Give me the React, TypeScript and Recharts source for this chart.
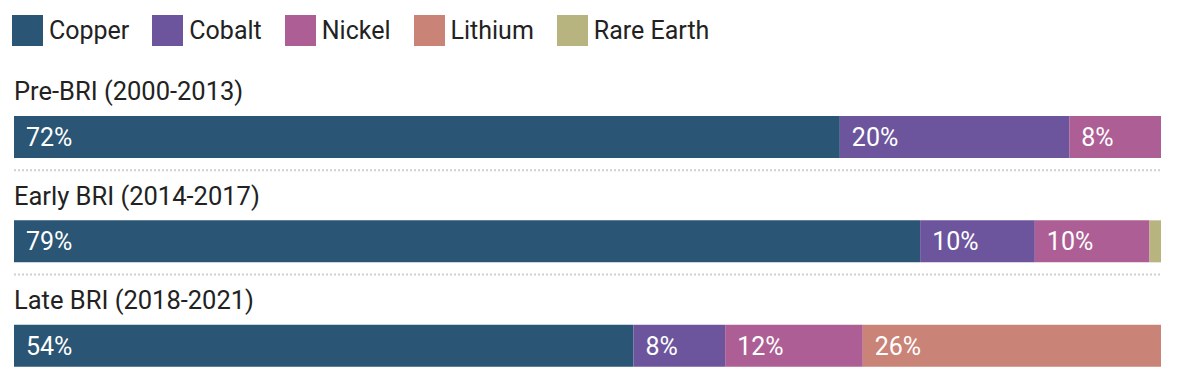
import React from "react";
import { BarChart, Bar, XAxis, YAxis, Legend, LabelList } from "recharts";

const periods = ["Pre-BRI (2000-2013)", "Early BRI (2014-2017)", "Late BRI (2018-2021)"];
const minerals = ["Copper", "Cobalt", "Nickel", "Lithium", "Rare Earth"];
const copper = [72, 79, 54];
const cobalt = [20, 10, 8];
const nickel = [8, 10, 12];
const lithium = [0, 0, 26];
const rareEarth = [0, 1, 0];

const COLORS = ["#2a5574", "#6c559d", "#ad5f95", "#c98377", "#b8b47f"];
const FONT = "Roboto, 'Noto Sans', sans-serif";

const data = periods.map((period, i) => ({
  period,
  Copper: copper[i],
  Cobalt: cobalt[i],
  Nickel: nickel[i],
  Lithium: lithium[i],
  "Rare Earth": rareEarth[i],
}));

const PLOT_LEFT = 14;
const PLOT_RIGHT = 1161;

// category label above each bar, plus dotted separator under it
const PeriodTick = (props: any) => {
  const { y, payload, index } = props;
  return (
    <g>
      <text x={PLOT_LEFT} y={y - 37} fill="#222" fontSize={25.5} fontFamily={FONT} textAnchor="start">
        {payload.value}
      </text>
      {index < periods.length - 1 && (
        <line
          x1={PLOT_LEFT}
          x2={PLOT_RIGHT}
          y1={y + 33}
          y2={y + 33}
          stroke="#cfcfcf"
          strokeWidth={2}
          strokeDasharray="2 2"
        />
      )}
    </g>
  );
};

const renderLegend = () => (
  <div style={{ display: "flex", alignItems: "center", paddingLeft: 12, height: 60 }}>
    {minerals.map((m, i) => (
      <div key={m} style={{ display: "flex", alignItems: "center", marginRight: 23 }}>
        <div style={{ width: 31, height: 31, backgroundColor: COLORS[i], marginRight: 6 }} />
        <span style={{ fontSize: 25, fontFamily: FONT, color: "#222" }}>{m}</span>
      </div>
    ))}
  </div>
);

const fmt = (v: any) => (v >= 5 ? `${v}%` : "");

export default function App() {
  return (
    <div style={{ position: "absolute", left: 0, top: 0, width: 1177, height: 373, overflow: "hidden", background: "#fff" }}>
      <BarChart
        width={1177}
        height={400}
        data={data}
        layout="vertical"
        margin={{ top: 25, right: 1177 - PLOT_RIGHT, bottom: 2, left: PLOT_LEFT - 1 }}
        barSize={42}
      >
        <XAxis type="number" domain={[0, 100]} hide />
        <YAxis
          type="category"
          dataKey="period"
          width={1}
          axisLine={false}
          tickLine={false}
          tick={(p: any) => <PeriodTick {...p} />}
          interval={0}
        />
        <Legend
          verticalAlign="top"
          align="left"
          content={renderLegend}
          wrapperStyle={{ top: 0, left: 0, height: 60, width: 1177 }}
        />
        {minerals.map((m, i) => (
          <Bar key={m} dataKey={m} stackId="a" fill={COLORS[i]} isAnimationActive={false}>
            <LabelList
              dataKey={m}
              position="insideLeft"
              offset={12}
              fill="#fff"
              fontSize={25}
              fontFamily={FONT}
              formatter={fmt}
            />
          </Bar>
        ))}
      </BarChart>
    </div>
  );
}
